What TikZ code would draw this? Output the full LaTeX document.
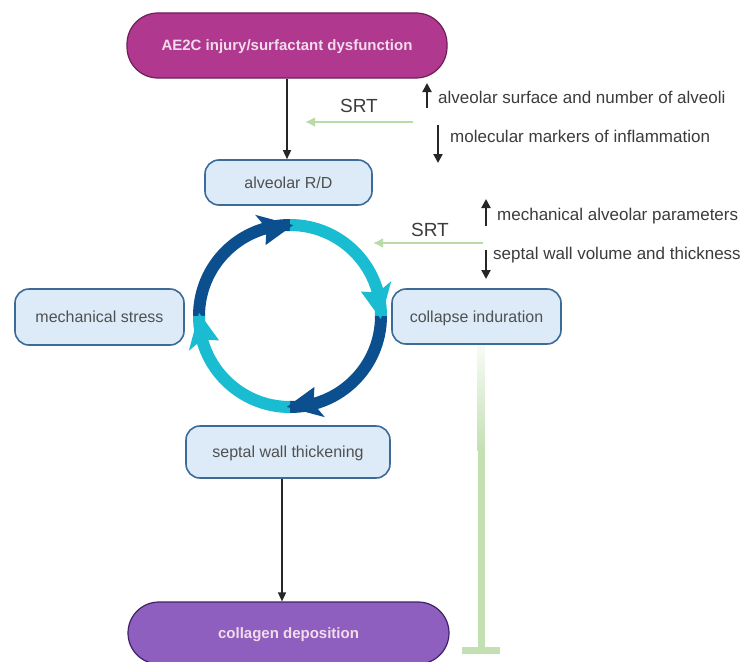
\documentclass[tikz,border=0pt]{standalone}
\usepackage{fontspec}
\setmainfont{Liberation Sans}
\usetikzlibrary{arrows.meta,calc}
\definecolor{magfill}{HTML}{B0388F}
\definecolor{magdraw}{HTML}{6E2058}
\definecolor{purfill}{HTML}{8E5FBE}
\definecolor{purdraw}{HTML}{3F2266}
\definecolor{bluefill}{HTML}{DDEBF8}
\definecolor{bluedraw}{HTML}{3D6B98}
\definecolor{darkarc}{HTML}{0B4F8E}
\definecolor{cyanarc}{HTML}{19BCD0}
\definecolor{srtgreen}{HTML}{B8DCA8}
\definecolor{inhgreen}{HTML}{C3E0B3}
\definecolor{txtgray}{HTML}{3C3C3C}
\definecolor{nodetxt}{HTML}{505050}
\definecolor{pilltxt}{HTML}{F2DCEB}
\begin{document}
\begin{tikzpicture}[x=1pt,y=-1pt,
  pill/.style={draw, line width=1.2pt, rounded corners=31pt, font=\fontsize{15}{18}\selectfont\bfseries, text=pilltxt, inner sep=0pt, text depth=0pt},
  bluebox/.style={draw=bluedraw, fill=bluefill, line width=1.6pt, rounded corners=14pt, font=\fontsize{16}{19}\selectfont, text=nodetxt, inner sep=0pt, text depth=0pt},
  annot/.style={font=\fontsize{17}{20}\selectfont, text=txtgray, anchor=west, inner sep=0pt},
  srt/.style={font=\fontsize{19}{22}\selectfont, text=txtgray, inner sep=0pt},
  blackarr/.style={draw=black!85, line width=1.4pt, -{Triangle[width=8pt,length=9pt]}},
  greenarr/.style={draw=srtgreen, line width=2pt, -{Latex[width=10pt,length=10pt]}},
  updown/.style={draw=black!85, line width=2pt, -{Triangle[width=9pt,length=9pt]}},
  arcband/.style={line width=12pt, line cap=butt},
  inhib/.style={draw=inhgreen, line width=7pt}
]
\useasboundingbox (0,0) rectangle (751,661);
\fill[white] (0,0) rectangle (751,661);
\clip (0,0) rectangle (751,661);

% nodes
\node[pill, fill=magfill, draw=magdraw, minimum width=320pt, minimum height=65pt] (ae) at (287,45.5) {AE2C injury/surfactant dysfunction};
\node[bluebox, minimum width=167pt, minimum height=45pt] (rd) at (288.5,182.5) {alveolar R/D};
\node[bluebox, minimum width=169pt, minimum height=56pt] (ms) at (99.5,317) {mechanical stress};
\node[bluebox, minimum width=169pt, minimum height=55pt] (ci) at (476.5,316.5) {collapse induration};
\node[bluebox, minimum width=204pt, minimum height=52pt] (sw) at (288,452) {septal wall thickening};

% inhibition line
\coordinate (tend) at (481,650);
\draw[inhib] (ci.south -| tend) -- (tend);
\shade[top color=inhgreen!12!white, bottom color=inhgreen] (477.3,345) rectangle (484.7,450);
\draw[inhib] ([xshift=-19pt]tend) -- ([xshift=19pt]tend);

\node[pill, fill=purfill, draw=purdraw, minimum width=321pt, minimum height=62pt] (cd) at (288.5,633) {collagen deposition};

% black connectors
\draw[blackarr] (ae.south) -- (ae.south |- rd.north);
\draw[blackarr] ([xshift=-6pt]sw.south) -- ([xshift=-6pt]sw.south |- cd.north);

% annotations
\node[annot] (t1) at (438,97) {alveolar surface and number of alveoli};
\node[annot] (t2) at (450,136) {molecular markers of inflammation};
\node[srt] (s1) at (359,106) {SRT};
\coordinate (g1s) at (413,122);
\coordinate (g1e) at (305,122);
\draw[greenarr] (g1s) -- (g1e);
\draw[updown] (t1.west) ++(-11,11) -- ++(0,-25);
\draw[updown] (t2.west) ++(-12,-11) -- ++(0,38);

\node[annot] (t3) at (497,216) {mechanical alveolar parameters};
\node[annot] (t4) at (493,255) {septal wall volume and thickness};
\node[srt] (s2) at (430,230) {SRT};
\coordinate (g2s) at (483,243);
\coordinate (g2e) at (373,243);
\draw[greenarr] (g2s) -- (g2e);
\draw[updown] (t3.west) ++(-11,10) -- ++(0,-27);
\draw[updown] (t4.west) ++(-7,-5) -- ++(0,29);

% cycle
\coordinate (cc) at (290,316);
\draw[arcband, darkarc] ([shift={(180:91pt)}]cc) arc[start angle=180, end angle=90, radius=91pt];
\draw[arcband, cyanarc] ([shift={(90:91pt)}]cc) arc[start angle=90, end angle=0, radius=91pt];
\draw[arcband, darkarc] ([shift={(0:91pt)}]cc) arc[start angle=0, end angle=-90, radius=91pt];
\draw[arcband, cyanarc] ([shift={(-90:91pt)}]cc) arc[start angle=-90, end angle=-180, radius=91pt];
\foreach \q/\c in {90/darkarc, 0/cyanarc, -90/darkarc, 180/cyanarc} {
  \fill[\c] ([shift={(\q-2:91pt)}]cc) -- ([shift={(\q+19:75pt)}]cc) -- ([shift={(\q+15:91pt)}]cc) -- ([shift={(\q+19:107pt)}]cc) -- cycle;
}
\end{tikzpicture}
\end{document}
